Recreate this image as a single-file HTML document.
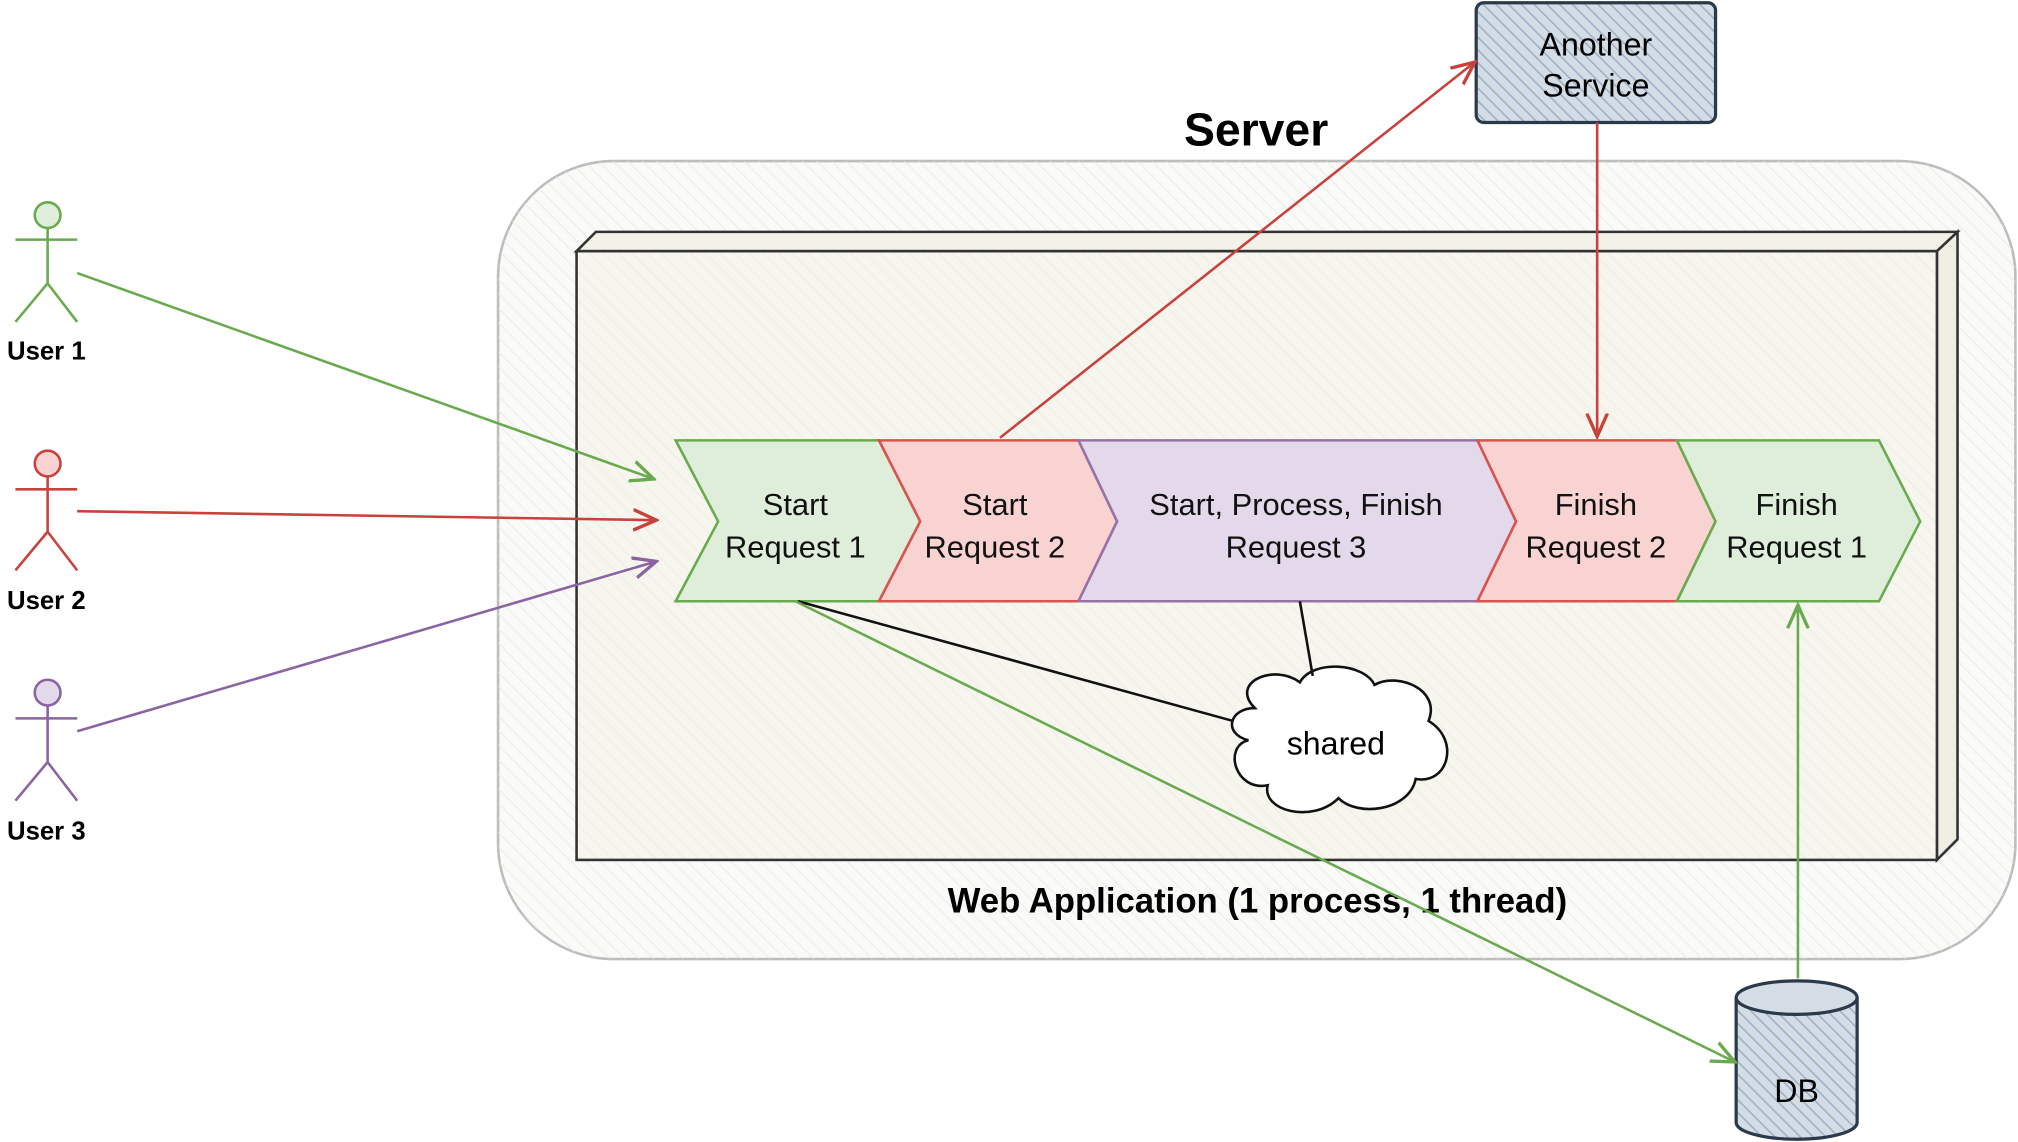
<!DOCTYPE html>
<html><head><meta charset="utf-8"><style>
html,body{margin:0;padding:0;background:#fff;width:2018px;height:1142px;overflow:hidden}
svg{display:block}
text{font-family:"Liberation Sans",sans-serif}
</style></head><body>
<svg width="2018" height="1142" viewBox="0 0 1568 887" xmlns="http://www.w3.org/2000/svg">
<defs>
<pattern id="h" width="8" height="8" patternUnits="userSpaceOnUse" patternTransform="rotate(-45)">
<line x1="0" y1="0" x2="0" y2="8" stroke="#e6e6e0" stroke-width="2"/></pattern>
<pattern id="hb" width="7" height="7" patternUnits="userSpaceOnUse" patternTransform="rotate(-45)">
<rect width="7" height="7" fill="#d4dde6"/><line x1="0" y1="0" x2="0" y2="7" stroke="#9fb1c4" stroke-width="2.5"/></pattern>
<marker id="ag" markerWidth="10" markerHeight="10" refX="9" refY="5" orient="auto"><path d="M0,1 L9,5 L0,9" fill="none" stroke="#6aaa4f" stroke-width="1.3"/></marker>
<marker id="ar" markerWidth="10" markerHeight="10" refX="9" refY="5" orient="auto"><path d="M0,1 L9,5 L0,9" fill="none" stroke="#c9413d" stroke-width="1.3"/></marker>
<marker id="ap" markerWidth="10" markerHeight="10" refX="9" refY="5" orient="auto"><path d="M0,1 L9,5 L0,9" fill="none" stroke="#8a63a3" stroke-width="1.3"/></marker>
</defs>
<rect x="387" y="125" width="1179" height="620" rx="90" fill="#fafaf8" stroke="#bdbdbd" stroke-width="2"/>
<rect x="387" y="125" width="1179" height="620" rx="90" fill="url(#h)" opacity="0.6"/>
<text x="976" y="113" font-size="36" font-weight="bold" text-anchor="middle">Server</text>
<polygon points="448,195 463,180 1521,180 1505,195" fill="#f3f2e8" stroke="#333" stroke-width="2"/>
<polygon points="1505,195 1521,180 1521,652 1505,668" fill="#efeee3" stroke="#333" stroke-width="2"/>
<rect x="448" y="195" width="1057" height="473" fill="#f7f6ee"/>
<rect x="448" y="195" width="1057" height="473" fill="url(#h)" opacity="0.5"/>
<rect x="448" y="195" width="1057" height="473" fill="none" stroke="#333" stroke-width="2"/>
<text x="977" y="709" font-size="27" font-weight="bold" text-anchor="middle">Web Application (1 process, 1 thread)</text>
<g stroke-width="2">
<polygon points="525,342 683,342 715,405 683,467 525,467 558,405" fill="#dfeeda" stroke="#6aaa4f"/>
<polygon points="683,342 838,342 868,405 838,467 683,467 715,405" fill="#f8d3d1" stroke="#d9534f"/>
<polygon points="838,342 1148,342 1178,405 1148,467 838,467 868,405" fill="#e4d9ea" stroke="#9673a6"/>
<polygon points="1148,342 1303,342 1333,405 1303,467 1148,467 1178,405" fill="#f8d3d1" stroke="#d9534f"/>
<polygon points="1303,342 1460,342 1492,405 1460,467 1303,467 1333,405" fill="#dfeeda" stroke="#6aaa4f"/>
</g>
<g font-size="24" text-anchor="middle" fill="#111">
<text x="618" y="400">Start</text><text x="618" y="433">Request 1</text>
<text x="773" y="400">Start</text><text x="773" y="433">Request 2</text>
<text x="1007" y="400">Start, Process, Finish</text><text x="1007" y="433">Request 3</text>
<text x="1240" y="400">Finish</text><text x="1240" y="433">Request 2</text>
<text x="1396" y="400">Finish</text><text x="1396" y="433">Request 1</text>
</g>
<rect x="1147" y="2" width="186" height="93" rx="6" fill="url(#hb)" stroke="#2b3a4a" stroke-width="2.5"/>
<text x="1240" y="43" font-size="25" text-anchor="middle">Another</text>
<text x="1240" y="75" font-size="25" text-anchor="middle">Service</text>
<path d="M1349,775 L1349,872 A47,13 0 0 0 1443,872 L1443,775" fill="url(#hb)" stroke="#2b3a4a" stroke-width="2.5"/>
<ellipse cx="1396" cy="775" rx="47" ry="13" fill="#d4dde6" stroke="#2b3a4a" stroke-width="2.5"/>
<text x="1396" y="856" font-size="25" text-anchor="middle">DB</text>
<path d="M975,550 C955,530 990,515 1010,530 C1020,512 1060,515 1068,532 C1085,522 1120,535 1110,560 C1135,575 1125,610 1100,605 C1095,630 1055,635 1040,620 C1020,640 980,630 985,610 C960,615 950,580 970,575 C950,570 955,550 975,550 Z" fill="#fff" stroke="#111" stroke-width="2"/>
<text x="1038" y="586" font-size="25" text-anchor="middle">shared</text>
<line x1="620" y1="467" x2="958" y2="560" stroke="#111" stroke-width="2"/>
<line x1="1010" y1="467" x2="1020" y2="525" stroke="#111" stroke-width="2"/>
<g fill="none" stroke-width="2">
<g stroke="#6aaa4f"><circle cx="37" cy="167" r="10" fill="#dfeeda"/><line x1="37" y1="177" x2="37" y2="220"/><line x1="12" y1="186" x2="60" y2="186"/><line x1="37" y1="220" x2="12" y2="250"/><line x1="37" y1="220" x2="60" y2="250"/></g>
<g stroke="#c9413d"><circle cx="37" cy="360" r="10" fill="#f8d3d1"/><line x1="37" y1="370" x2="37" y2="413"/><line x1="12" y1="380" x2="60" y2="380"/><line x1="37" y1="413" x2="12" y2="443"/><line x1="37" y1="413" x2="60" y2="443"/></g>
<g stroke="#8a63a3"><circle cx="37" cy="538" r="10" fill="#e4d9ea"/><line x1="37" y1="548" x2="37" y2="592"/><line x1="12" y1="558" x2="60" y2="558"/><line x1="37" y1="592" x2="12" y2="622"/><line x1="37" y1="592" x2="60" y2="622"/></g>
</g>
<g font-size="20" font-weight="bold" text-anchor="middle">
<text x="36" y="279">User 1</text><text x="36" y="473">User 2</text><text x="36" y="652">User 3</text>
</g>
<g fill="none" stroke-width="2">
<line x1="60" y1="212" x2="508" y2="372" stroke="#6aaa4f" marker-end="url(#ag)"/>
<line x1="60" y1="397" x2="510" y2="404" stroke="#c9413d" marker-end="url(#ar)"/>
<line x1="60" y1="568" x2="510" y2="436" stroke="#8a63a3" marker-end="url(#ap)"/>
<line x1="777" y1="340" x2="1146" y2="48" stroke="#c9413d" marker-end="url(#ar)"/>
<line x1="1241" y1="95" x2="1241" y2="339" stroke="#c9413d" marker-end="url(#ar)"/>
<line x1="618" y1="467" x2="1348" y2="825" stroke="#6aaa4f" marker-end="url(#ag)"/>
<line x1="1397" y1="760" x2="1397" y2="470" stroke="#6aaa4f" marker-end="url(#ag)"/>
</g>
</svg>
</body></html>
